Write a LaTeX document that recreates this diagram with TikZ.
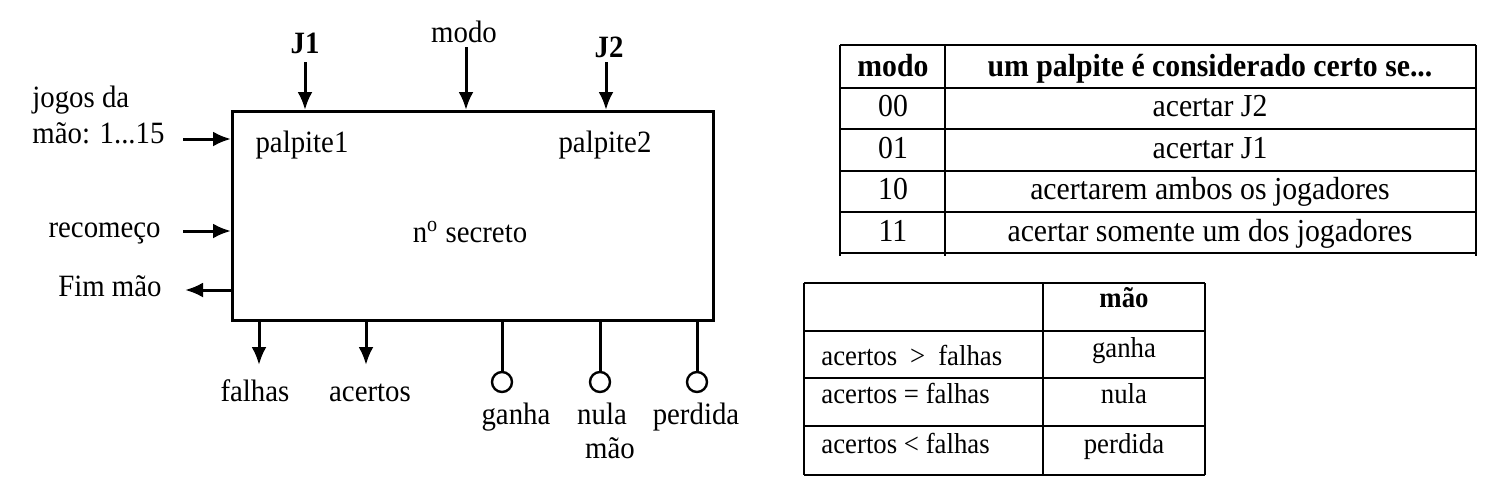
\documentclass[tikz,border=0pt]{standalone}
\usepackage{fontspec}
\setmainfont{Liberation Serif}[FakeStretch=0.93]
\usetikzlibrary{arrows.meta}

\begin{document}
\begin{tikzpicture}[x=0.5pt,y=-0.5pt,
    sig/.style={line width=1.5pt,-{Latex[length=9pt,width=7.5pt]}},
    stem/.style={line width=1.5pt},
    lbl/.style={inner sep=0pt,anchor=base,font=\fontsize{15.5}{18}\selectfont},
    cell/.style={inner sep=0pt,anchor=base,font=\fontsize{16}{18}\selectfont},
    small/.style={inner sep=0pt,anchor=base,font=\fontsize{14.4}{17}\selectfont},
    rule/.style={line width=0.6pt},
    bubble/.style={draw,circle,line width=1.2pt,minimum size=10pt,inner sep=0pt}]
  \useasboundingbox (0,0) rectangle (1506,498);

  % the block
  \node[draw,line width=1.7pt,anchor=north west,inner sep=0pt,
        minimum width=240.5pt,minimum height=104.5pt] (chip) at (231,110) {};
  \node[lbl] (p1) at (302,152) {palpite1};
  \node[lbl] (p2) at (605,152) {palpite2};
  \node[lbl] (sec) at (470,242) {n\textsuperscript{o} secreto};

  % inputs on top
  \node[lbl,font=\fontsize{15.5}{18}\bfseries] (j1) at (305,54) {J1};
  \node[lbl] (modo) at (464,42) {modo};
  \node[lbl,font=\fontsize{15.5}{18}\bfseries] (j2) at (609,57) {J2};
  \coordinate (j1top) at (305,62);
  \coordinate (mtop) at (466,47);
  \coordinate (j2top) at (606,62);
  \draw[sig] (j1top) -- (j1top |- chip.north);
  \draw[sig] (mtop) -- (mtop |- chip.north);
  \draw[sig] (j2top) -- (j2top |- chip.north);

  % left side
  \node[lbl,anchor=base west] (jogos) at (32,107) {jogos da};
  \node[lbl,anchor=base west] (jogos2) at (32,143) {mão: 1...15};
  \node[lbl,anchor=base east] (rec) at (161,237) {recomeço};
  \node[lbl,anchor=base east] (fim) at (162,296) {Fim mão};
  \coordinate (jin) at (183,139);
  \coordinate (rin) at (183,231);
  \coordinate (fout) at (185,290);
  \draw[sig] (jin) -- (jin -| chip.west);
  \draw[sig] (rin) -- (rin -| chip.west);
  \draw[sig] (fout -| chip.west) -- (fout);

  % outputs below
  \node[lbl] (fal) at (255,401) {falhas};
  \node[lbl] (ace) at (370,401) {acertos};
  \coordinate (fo) at (259,365);
  \coordinate (ao) at (366,365);
  \draw[sig] (fo |- chip.south) -- (fo);
  \draw[sig] (ao |- chip.south) -- (ao);

  \node[bubble] (cg) at (502,382) {};
  \node[bubble] (cn) at (600,382) {};
  \node[bubble] (cp) at (697,382) {};
  \draw[stem] (cg |- chip.south) -- (cg.north);
  \draw[stem] (cn |- chip.south) -- (cn.north);
  \draw[stem] (cp |- chip.south) -- (cp.north);
  \node[lbl] (gan) at (516,424) {ganha};
  \node[lbl] (nul) at (602,424) {nula};
  \node[lbl] (mao) at (610,458) {mão};
  \node[lbl] (per) at (696,424) {perdida};

  % table of modes
  \foreach \y in {45,88,129,171,212,253}
    \draw[rule] (840,\y) -- (1476,\y);
  \foreach \x in {840,945,1476}
    \draw[rule] (\x,45) -- (\x,256);
  \node[cell,font=\fontsize{16}{18}\bfseries] (th1) at (893,76) {modo};
  \node[cell,font=\fontsize{16}{18}\bfseries] (th2) at (1210,76) {um palpite é considerado certo se...};
  \node[cell] (m00) at (893,116) {00};
  \node[cell] (t00) at (1210,116) {acertar J2};
  \node[cell] (m01) at (893,158) {01};
  \node[cell] (t01) at (1210,158) {acertar J1};
  \node[cell] (m10) at (893,199) {10};
  \node[cell] (t10) at (1210,199) {acertarem ambos os jogadores};
  \node[cell] (m11) at (893,241) {11};
  \node[cell] (t11) at (1210,241) {acertar somente um dos jogadores};

  % table of results
  \foreach \y in {283,331,378,426,475}
    \draw[rule] (804,\y) -- (1205,\y);
  \foreach \x in {804,1043,1205}
    \draw[rule] (\x,283) -- (\x,475);
  \node[small,font=\fontsize{14.4}{17}\bfseries] (rh) at (1124,307) {mão};
  \node[small,anchor=base west] (c1) at (821,365) {acertos\hspace{0.45em}>\hspace{0.45em}falhas};
  \node[small] (r1) at (1124,357) {ganha};
  \node[small,anchor=base west] (c2) at (821,403) {acertos = falhas};
  \node[small] (r2) at (1124,403) {nula};
  \node[small,anchor=base west] (c3) at (821,453) {acertos < falhas};
  \node[small] (r3) at (1124,453) {perdida};
\end{tikzpicture}
\end{document}
